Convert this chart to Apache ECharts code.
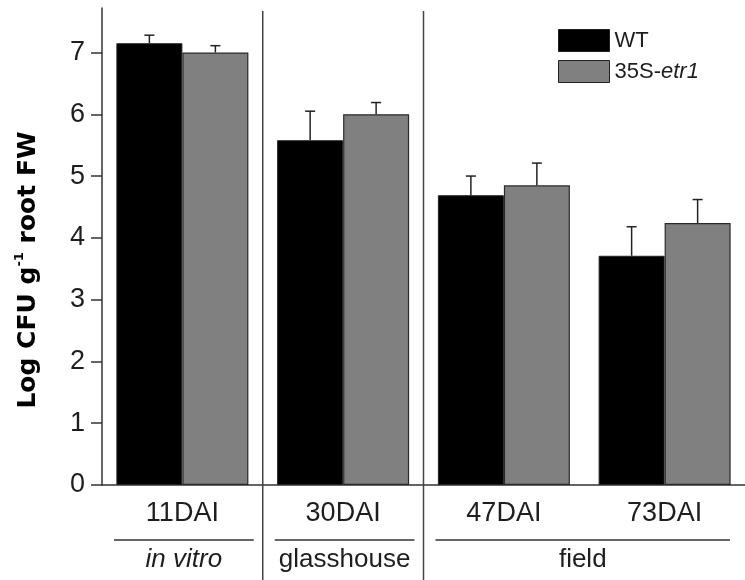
<!DOCTYPE html>
<html>
<head>
<meta charset="utf-8">
<script src="https://cdn.jsdelivr.net/npm/echarts@6/dist/echarts.min.js"></script>
<style>
  html, body { margin: 0; padding: 0; background: #fff; }
  #chart { width: 745px; height: 580px; }
</style>
</head>
<body>
<div id="chart"></div>
<script>
// Sampling times and bacterial counts (log CFU per g root fresh weight), mean and SE
const categories = ['11DAI', '30DAI', '47DAI', '73DAI'];
const wtMean  = [7.15, 5.58, 4.69, 3.71];
const wtErr   = [0.13, 0.47, 0.31, 0.47];
const etrMean = [7.00, 6.00, 4.85, 4.24];
const etrErr  = [0.11, 0.19, 0.36, 0.38];
const yTicks  = [0, 1, 2, 3, 4, 5, 6, 7];
const seriesNames = ['WT', '35S-etr1'];

// Growing conditions spanning one or more sampling times
const groups = [
  { label: 'in vitro',   first: 0, last: 0, italic: true },
  { label: 'glasshouse', first: 1, last: 1, italic: false },
  { label: 'field',      first: 2, last: 3, italic: false }
];

const BAR_W = 66;
const TEXT = '#1e1e1e';
const LINE = '#333';
const SANS = '"Liberation Sans", Arial, sans-serif';

const chart = echarts.init(document.getElementById('chart'), null, { renderer: 'canvas' });

// Upward-only error whisker with a short cap, offset to its bar within the group
function errorRenderer(side) {
  return function (params, api) {
    const i = api.value(0);
    const mean = api.value(1);
    const err = api.value(2);
    const base = api.coord([i, mean]);
    const tip = api.coord([i, mean + err]);
    const x = base[0] + side * BAR_W / 2;
    const style = { stroke: '#222', lineWidth: 1.5 };
    return {
      type: 'group',
      children: [
        { type: 'line', shape: { x1: x, y1: base[1], x2: x, y2: tip[1] }, style: style },
        { type: 'line', shape: { x1: x - 5, y1: tip[1], x2: x + 5, y2: tip[1] }, style: style }
      ]
    };
  };
}

const option = {
  animation: false,
  backgroundColor: '#fff',
  grid: { left: 102, top: 8, right: -7, bottom: 95 },
  legend: {
    data: seriesNames,
    orient: 'vertical',
    left: 553,
    top: 24,
    itemWidth: 51,
    itemHeight: 22,
    itemGap: 8,
    icon: 'rect',
    selectedMode: false,
    itemStyle: { borderColor: '#222', borderWidth: 1 },
    textStyle: {
      fontSize: 22, fontFamily: SANS, color: TEXT,
      rich: { i: { fontSize: 22, fontFamily: SANS, color: TEXT, fontStyle: 'italic' } }
    },
    formatter: function (name) {
      return name === '35S-etr1' ? '35S-{i|etr1}' : name;
    }
  },
  xAxis: [
    {
      type: 'category',
      data: categories,
      axisLine: { lineStyle: { color: LINE, width: 1.5 } },
      axisTick: { inside: true, length: 5, alignWithLabel: false, lineStyle: { color: LINE, width: 1.5 } },
      axisLabel: { fontSize: 27, fontFamily: SANS, color: TEXT, margin: 15 },
      splitLine: { show: false }
    },
    {
      type: 'category',
      data: categories,
      position: 'bottom',
      axisLine: { show: false },
      axisTick: { alignWithLabel: true, length: 8, lineStyle: { color: LINE, width: 1.5 } },
      axisLabel: { show: false },
      splitLine: { show: false }
    }
  ],
  yAxis: {
    type: 'value',
    min: 0,
    max: 7.72,
    axisLine: { show: true, lineStyle: { color: LINE, width: 1.5 } },
    axisTick: { show: true, length: 11, customValues: yTicks, lineStyle: { color: LINE, width: 1.5 } },
    axisLabel: {
      fontSize: 27, fontFamily: SANS, color: TEXT, margin: 17,
      customValues: yTicks,
      formatter: function (v) { return Number.isInteger(v) ? String(v) : ''; }
    },
    splitLine: { show: false }
  },
  series: [
    {
      name: 'WT',
      type: 'bar',
      xAxisIndex: 0,
      data: wtMean,
      barWidth: BAR_W,
      barGap: '0%',
      itemStyle: { color: '#000000', borderColor: '#222', borderWidth: 1 }
    },
    {
      name: '35S-etr1',
      type: 'bar',
      xAxisIndex: 0,
      data: etrMean,
      barWidth: BAR_W,
      barGap: '0%',
      itemStyle: { color: '#808080', borderColor: '#2a2a2a', borderWidth: 1.2 }
    },
    {
      name: 'WT error',
      type: 'custom',
      xAxisIndex: 0,
      z: 5,
      renderItem: errorRenderer(-1),
      data: wtMean.map((m, i) => [i, m, wtErr[i]])
    },
    {
      name: '35S-etr1 error',
      type: 'custom',
      xAxisIndex: 0,
      z: 5,
      renderItem: errorRenderer(1),
      data: etrMean.map((m, i) => [i, m, etrErr[i]])
    }
  ]
};

chart.setOption(option);

// Dividers between growing conditions, group underlines, group names and the y-axis title
const c0 = chart.convertToPixel({ xAxisIndex: 0 }, 0);
const c1 = chart.convertToPixel({ xAxisIndex: 0 }, 1);
const band = c1 - c0;
const leftEdge = i => chart.convertToPixel({ xAxisIndex: 0 }, i) - band / 2;
const rightEdge = i => chart.convertToPixel({ xAxisIndex: 0 }, i) + band / 2;
const topY = chart.convertToPixel({ yAxisIndex: 0 }, 7.72);
const W = chart.getWidth();
const H = chart.getHeight();

const graphics = [];
groups.forEach((g, k) => {
  if (k > 0) {
    const x = leftEdge(g.first);
    graphics.push({
      type: 'line', z: 10,
      shape: { x1: x, y1: topY + 3, x2: x, y2: H },
      style: { stroke: '#444', lineWidth: 1.5 }
    });
  }
  const x1 = leftEdge(g.first) + 12;
  const x2 = Math.min(rightEdge(g.last) - 9, W - 15);
  graphics.push({
    type: 'line', z: 10,
    shape: { x1: x1, y1: 540, x2: x2, y2: 540 },
    style: { stroke: '#333', lineWidth: 1.5 }
  });
  graphics.push({
    type: 'text', z: 10,
    x: (x1 + x2) / 2, y: 560,
    style: {
      text: g.label,
      fill: TEXT,
      fontSize: 26,
      fontFamily: SANS,
      fontStyle: g.italic ? 'italic' : 'normal',
      align: 'center',
      verticalAlign: 'middle'
    }
  });
});

graphics.push({
  type: 'text', z: 10,
  x: 28, y: 270,
  rotation: Math.PI / 2,
  style: {
    text: '{m|Log CFU g}{s|-1}{m| root FW}',
    fill: '#000',
    align: 'center',
    verticalAlign: 'middle',
    rich: {
      m: { fontSize: 25, fontWeight: 'bold', fontFamily: '"DejaVu Sans", sans-serif', fill: '#000', lineHeight: 30 },
      s: { fontSize: 13, fontWeight: 'bold', fontFamily: '"DejaVu Sans", sans-serif', fill: '#000', verticalAlign: 'top', lineHeight: 30 }
    }
  }
});

chart.setOption({ graphic: graphics });
</script>
</body>
</html>
